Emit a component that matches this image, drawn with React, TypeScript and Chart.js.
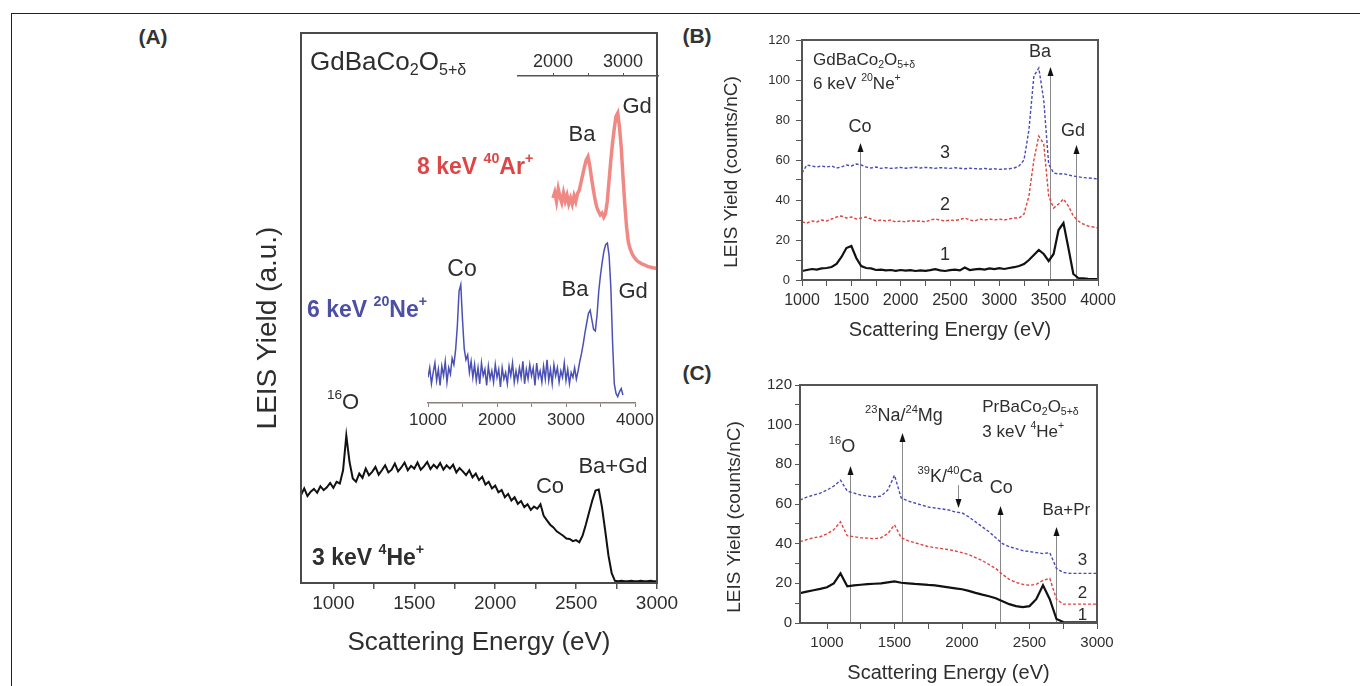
import React, { useEffect, useRef } from "react";
import { Chart, registerables } from "chart.js";

Chart.register(...registerables);

const FAMILY = "'Liberation Sans', Arial, Helvetica, sans-serif";
const TEXT = "#2e2e2e";
const AXIS = "#555555";

// ---------------- Panel A: 3 keV 4He+ (main plot), 20 eV sampling ----------------
const heStart = 800;
const heStep = 20;
const heYield = [
  16.0, 17.2, 15.8, 16.6, 17.1, 16.4, 17.6, 16.9, 17.4, 18.2,
  17.3, 18.4, 18.1, 20.5, 26.8, 22.0, 19.0,
  18.4, 19.9, 19.1, 20.8, 19.6, 20.2, 21.1, 19.7, 20.5, 21.4,
  20.1, 20.6, 21.7, 20.3, 21.0, 21.9, 20.5, 21.3, 20.8, 21.9,
  20.6, 21.2, 22.0, 20.7, 21.5, 20.9, 21.8, 20.6, 21.4, 20.8,
  21.5, 20.1, 20.9, 20.3, 19.6, 20.5, 19.2, 19.9, 18.7,
  19.3, 17.9, 18.4, 17.2, 17.7, 16.5, 16.9, 15.6, 16.2, 15.0,
  15.6, 14.4, 14.9, 13.8, 14.3, 13.3, 13.9, 13.5, 14.3, 12.2,
  11.4, 10.6, 10.1, 9.4, 9.0, 8.6, 8.1, 8.0, 7.6, 7.8,
  7.4, 8.6, 10.6, 12.8, 15.0, 16.8, 17.0, 13.8, 9.5, 5.0,
  1.8, 0.4,
  0.3, 0.4, 0.3, 0.3, 0.4, 0.3, 0.3, 0.4, 0.3, 0.3, 0.4, 0.3, 0.3,
];

// ---------------- Panel A inset: 6 keV 20Ne+, 25 eV sampling ----------------
const neStart = 1000;
const neStep = 25;
const neYield = [
  16, 22, 12, 19, 25, 14, 21, 11, 23, 17, 26, 13, 22, 18, 28, 24,
  33, 48, 70, 74, 52, 34, 27, 30, 19, 26, 16, 24, 14, 22, 12, 25,
  17, 21, 11, 23, 15, 20, 13, 24, 16, 21, 10, 22, 15, 19, 12, 23,
  17, 25, 13, 20, 14, 22, 16, 26, 12, 21, 15, 24, 17, 22, 11, 25,
  16, 20, 13, 23, 15, 27, 14, 21, 12, 24, 17, 22, 13, 20, 16, 25,
  14, 21, 12, 19, 16, 22, 15, 20, 26, 31, 37, 44, 50, 56, 58, 52,
  46, 45, 55, 70, 80, 88, 95, 99, 100, 92, 72, 38, 12, 6, 4, 7,
  9, 5,
];

// ---------------- Panel A inset: 8 keV 40Ar+, 25 eV sampling ----------------
const arStart = 2000;
const arStep = 25;
const arYield = [
  45.5, 48.0, 44.0, 49.5, 46.0, 43.5, 47.8, 44.2, 46.8, 43.0,
  45.5, 42.8, 46.5, 44.0, 47.5, 49.0, 52.5, 56.0, 59.5, 62.5,
  64.0, 60.0, 54.5, 49.5, 45.0, 41.5, 39.5, 38.0, 38.8, 37.0,
  38.5, 44.0, 53.0, 62.0, 70.0, 76.5, 82.0, 83.5, 77.0, 68.0,
  55.0, 43.0, 33.0, 26.0, 23.0, 21.0, 19.5, 18.5, 17.5, 17.0,
  16.5, 16.0, 15.8, 15.4, 15.0, 14.8, 14.6, 14.4, 14.3, 14.2,
];

// ---------------- Panel B: GdBaCo2O5+d, 6 keV 20Ne+, 50 eV sampling ----------------
const bStart = 1000;
const bStep = 50;
const bCurve1 = [
  4.5, 5.0, 5.5, 5.2, 5.8, 6.0, 6.5, 8.0, 11.5, 16.0,
  17.0, 11.0, 7.0, 6.0, 5.8, 5.0, 5.2, 4.8, 5.0, 4.6,
  5.0, 4.7, 4.9, 4.5, 4.8, 4.6, 4.9, 5.4, 4.8, 4.5,
  4.9, 5.2, 4.8, 6.2, 5.0, 5.3, 5.6, 5.2, 5.8, 5.4,
  5.9, 5.5, 6.0, 6.4, 7.0, 8.0, 10.0, 12.5, 15.0, 13.0,
  9.5, 13.0, 25.0, 28.5, 16.0, 3.0, 1.0, 0.8, 0.6, 0.5, 0.5,
];
const bCurve2 = [
  29.0, 28.5, 29.5, 29.0, 30.0, 29.5, 30.5, 31.5, 32.0, 31.0,
  31.5, 30.5, 31.0, 31.5, 30.5, 29.5, 30.0, 29.5, 30.0, 29.0,
  29.5, 29.0, 29.8, 29.3, 29.5, 29.0, 30.0, 30.5, 30.0, 29.5,
  30.0, 29.8, 30.2, 31.0, 30.0, 29.5, 30.5, 30.0, 30.5, 30.0,
  30.5, 30.0, 30.5, 31.0, 31.0, 33.0, 42.0, 60.0, 72.0, 68.0,
  42.0, 36.0, 38.0, 40.5, 37.0, 32.0, 29.5, 28.0, 27.0, 26.5, 26.0,
];
const bCurve3 = [
  53.5, 57.5, 57.0, 56.5, 57.0, 56.5, 57.0, 56.0, 56.5, 57.5,
  57.0, 58.0, 57.5, 56.5, 56.0, 56.5, 55.8, 56.2, 55.8, 56.0,
  56.3, 55.9, 56.1, 56.4, 56.0, 56.3, 56.1, 55.8, 56.2, 56.0,
  55.8, 56.1, 55.9, 55.6, 55.9, 55.7, 55.5, 55.8, 55.4, 55.6,
  55.3, 55.5, 55.6, 56.0, 57.0, 60.0, 75.0, 102.0, 106.0, 90.0,
  58.0, 53.5, 53.0, 53.2, 52.5, 52.0, 51.6, 51.2, 51.0, 50.8, 50.5,
];

// ---------------- Panel C: PrBaCo2O5+d, 3 keV 4He+, 50 eV sampling ----------------
const cStart = 800;
const cStep = 50;
const cCurve1 = [
  15.0, 15.8, 16.5, 17.2, 18.0, 20.0, 25.0, 18.5, 19.0, 19.3,
  19.6, 19.8, 20.0, 20.5, 21.0, 20.3, 20.0, 19.7, 19.5, 19.2,
  19.0, 18.5, 18.0, 17.5, 17.0, 16.2, 15.2, 14.3, 13.5, 12.5,
  11.0, 9.5, 8.5, 8.0, 8.5, 12.0, 19.0, 12.0, 2.0, 0.5,
  0.3, 0.3, 0.3, 0.3, 0.3,
];
const cCurve2 = [
  41.0, 42.0, 43.0, 43.5, 45.0, 47.0, 51.0, 44.0, 43.5, 43.0,
  42.8, 42.5, 43.0, 45.0, 49.5, 43.0, 41.5, 40.5, 39.5, 38.5,
  38.0, 37.5, 37.0, 36.3, 35.5, 34.5, 33.0, 31.5, 29.5, 27.5,
  24.5, 22.0, 20.5, 19.5, 19.0, 19.5, 21.5, 22.5, 12.0, 9.5,
  9.5, 9.5, 9.5, 9.5, 9.5,
];
const cCurve3 = [
  62.0, 63.5, 64.5, 65.5, 67.0, 69.0, 72.0, 66.5, 65.5, 64.5,
  64.0, 63.5, 64.0, 67.0, 74.5, 63.0, 61.5, 60.5, 59.5, 58.5,
  58.0, 57.5, 57.0, 56.0, 55.5, 53.5, 51.0, 48.5, 46.0, 43.0,
  40.0, 38.5, 37.5, 36.5, 36.0, 35.5, 35.0, 35.5, 27.5, 25.5,
  25.0, 25.0, 25.0, 25.0, 25.0,
];

// ---------------- ticks and tick labels ----------------
const aXTicks = [1000, 1250, 1500, 1750, 2000, 2250, 2500, 2750, 3000];
const aXTickLabels = [1000, 1500, 2000, 2500, 3000];
const arTicks = [2000, 2500, 3000];
const arTickLabels = [2000, 3000];
const neTicks = [1000, 1500, 2000, 2500, 3000, 3500, 4000];
const neTickLabels = [1000, 2000, 3000, 4000];
const bXTicks = [1000, 1250, 1500, 1750, 2000, 2250, 2500, 2750, 3000, 3250, 3500, 3750, 4000];
const bXTickLabels = [1000, 1500, 2000, 2500, 3000, 3500, 4000];
const yTicks = [0, 10, 20, 30, 40, 50, 60, 70, 80, 90, 100, 110, 120];
const yTickLabels = [0, 20, 40, 60, 80, 100, 120];
const cXTicks = [1000, 1250, 1500, 1750, 2000, 2250, 2500, 2750, 3000];
const cXTickLabels = [1000, 1500, 2000, 2500, 3000];

// ---------------- annotations (data coordinates) ----------------
type Label = { text: string; x: number; y: number; size: number; bold?: boolean; color?: string; align?: "left" | "center" | "right" };
type Arrow = { x: number; top: number; bottom?: number; down?: boolean };

const aLabels: Label[] = [
  { text: "GdBaCo_{2}O_{5+δ}", x: 856, y: 94.5, size: 26, align: "left" },
  { text: "8 keV ^{40}Ar^{+}", x: 1517, y: 75.6, size: 23, bold: true, color: "#e04545", align: "left" },
  { text: "Ba", x: 2537, y: 81.5, size: 22 },
  { text: "Gd", x: 2877, y: 86.5, size: 22 },
  { text: "Co", x: 1795, y: 56.9, size: 23 },
  { text: "6 keV ^{20}Ne^{+}", x: 837, y: 49.6, size: 23, bold: true, color: "#4d4fa6", align: "left" },
  { text: "Ba", x: 2493, y: 53.3, size: 22 },
  { text: "Gd", x: 2852, y: 52.9, size: 22 },
  { text: "^{16}O", x: 1060, y: 32.7, size: 22 },
  { text: "Co", x: 2339, y: 17.5, size: 22 },
  { text: "Ba+Gd", x: 2728, y: 21.1, size: 22 },
  { text: "3 keV ^{4}He^{+}", x: 868, y: 4.5, size: 23, bold: true, align: "left" },
];

const bLabels: Label[] = [
  { text: "GdBaCo_{2}O_{5+δ}", x: 1111, y: 110, size: 17, align: "left" },
  { text: "6 keV ^{20}Ne^{+}", x: 1111, y: 98, size: 17, align: "left" },
  { text: "Co", x: 1588, y: 76.5, size: 18 },
  { text: "3", x: 2449, y: 63.5, size: 18 },
  { text: "2", x: 2449, y: 37.5, size: 18 },
  { text: "1", x: 2449, y: 12.5, size: 18 },
  { text: "Ba", x: 3412, y: 114, size: 18 },
  { text: "Gd", x: 3747, y: 74.5, size: 18 },
];
const bArrows: Arrow[] = [
  { x: 1588, top: 68.5 },
  { x: 3513, top: 106.5 },
  { x: 3777, top: 67.5 },
];

const cLabels: Label[] = [
  { text: "^{16}O", x: 1111, y: 88.7, size: 18 },
  { text: "^{23}Na/^{24}Mg", x: 1570, y: 104.4, size: 18 },
  { text: "^{39}K/^{40}Ca", x: 1911, y: 73.6, size: 18 },
  { text: "Co", x: 2291, y: 68, size: 18 },
  { text: "Ba+Pr", x: 2773, y: 57, size: 17 },
  { text: "PrBaCo_{2}O_{5+δ}", x: 2150, y: 109, size: 17, align: "left" },
  { text: "3 keV ^{4}He^{+}", x: 2150, y: 96.3, size: 17, align: "left" },
  { text: "3", x: 2892, y: 31.8, size: 17 },
  { text: "2", x: 2892, y: 15.1, size: 17 },
  { text: "1", x: 2892, y: 4, size: 17 },
];
const cArrows: Arrow[] = [
  { x: 1170, top: 79.2 },
  { x: 1556, top: 95.8 },
  { x: 1973, top: 69.5, bottom: 58, down: true },
  { x: 2284, top: 59 },
  { x: 2696, top: 48.4 },
];

// ---------------- helpers ----------------
const toPoints = (start: number, step: number, ys: number[]) => ys.map((y, i) => ({ x: start + i * step, y }));
const labelIf = (list: number[]) => (v: any) => (list.indexOf(Number(v)) >= 0 ? String(v) : "");
const setTicks = (list: number[]) => (s: any) => {
  s.ticks = list.map((v) => ({ value: v }));
};
const fixAxis = (size: number, horizontal: boolean) => (s: any) => {
  if (horizontal) s.height = size;
  else s.width = size;
  s.paddingLeft = 0;
  s.paddingRight = 0;
  s.paddingTop = 0;
  s.paddingBottom = 0;
};

function parseRich(s: string) {
  const out: { t: string; k: number }[] = [];
  let buf = "";
  let i = 0;
  while (i < s.length) {
    const c = s[i];
    if ((c === "^" || c === "_") && s[i + 1] === "{") {
      if (buf) {
        out.push({ t: buf, k: 0 });
        buf = "";
      }
      const end = s.indexOf("}", i);
      out.push({ t: s.slice(i + 2, end), k: c === "^" ? 1 : -1 });
      i = end + 1;
    } else {
      buf += c;
      i++;
    }
  }
  if (buf) out.push({ t: buf, k: 0 });
  return out;
}

function drawRich(ctx: CanvasRenderingContext2D, s: string, x: number, y: number, size: number, bold: boolean, color: string, align: string) {
  const segs = parseRich(s);
  const small = size * 0.62;
  const fontOf = (k: number) => `${bold ? "bold " : ""}${k === 0 ? size : small}px ${FAMILY}`;
  let total = 0;
  for (const sg of segs) {
    ctx.font = fontOf(sg.k);
    total += ctx.measureText(sg.t).width;
  }
  let cx = align === "center" ? x - total / 2 : align === "right" ? x - total : x;
  ctx.fillStyle = color;
  ctx.textBaseline = "middle";
  ctx.textAlign = "left";
  for (const sg of segs) {
    ctx.font = fontOf(sg.k);
    const dy = sg.k === 1 ? -size * 0.36 : sg.k === -1 ? size * 0.3 : 0;
    ctx.fillText(sg.t, cx, y + dy);
    cx += ctx.measureText(sg.t).width;
  }
}

type Deco = {
  box?: { color: string; width: number };
  labels?: Label[];
  arrows?: Arrow[];
  yTitle?: { text: string; x: number; y: number; size: number };
};

function makeDeco(id: string, d: Deco) {
  return {
    id,
    beforeDatasetsDraw(chart: any) {
      const { ctx, scales } = chart;
      const xs = scales.x;
      const ys = scales.y;
      ctx.save();
      for (const ar of d.arrows || []) {
        const px = Math.round(xs.getPixelForValue(ar.x)) + 0.5;
        const pt = ys.getPixelForValue(ar.top);
        const pb = ys.getPixelForValue(ar.bottom ?? 0);
        ctx.strokeStyle = "#8a8a8a";
        ctx.lineWidth = 1;
        ctx.beginPath();
        if (ar.down) {
          ctx.moveTo(px, pt);
          ctx.lineTo(px, pb - 8);
        } else {
          ctx.moveTo(px, pt + 8);
          ctx.lineTo(px, pb);
        }
        ctx.stroke();
        ctx.fillStyle = "#111";
        ctx.beginPath();
        if (ar.down) {
          ctx.moveTo(px, pb);
          ctx.lineTo(px - 3, pb - 9);
          ctx.lineTo(px + 3, pb - 9);
        } else {
          ctx.moveTo(px, pt);
          ctx.lineTo(px - 3, pt + 9);
          ctx.lineTo(px + 3, pt + 9);
        }
        ctx.closePath();
        ctx.fill();
      }
      ctx.restore();
    },
    afterDatasetsDraw(chart: any) {
      const { ctx, chartArea: a, scales } = chart;
      const xs = scales.x;
      const ys = scales.y;
      ctx.save();
      if (d.box) {
        ctx.strokeStyle = d.box.color;
        ctx.lineWidth = d.box.width;
        ctx.strokeRect(a.left, a.top, a.right - a.left, a.bottom - a.top);
      }
      for (const lb of d.labels || []) {
        drawRich(ctx, lb.text, xs.getPixelForValue(lb.x), ys.getPixelForValue(lb.y), lb.size, !!lb.bold, lb.color || TEXT, lb.align || "center");
      }
      if (d.yTitle) {
        ctx.translate(d.yTitle.x, d.yTitle.y);
        ctx.rotate(-Math.PI / 2);
        ctx.font = `${d.yTitle.size}px ${FAMILY}`;
        ctx.fillStyle = TEXT;
        ctx.textAlign = "center";
        ctx.textBaseline = "middle";
        ctx.fillText(d.yTitle.text, 0, 0);
      }
      ctx.restore();
    },
  };
}

const common = {
  animation: false,
  responsive: false,
  maintainAspectRatio: false,
  events: [],
  plugins: { legend: { display: false }, tooltip: { enabled: false }, title: { display: false } },
  elements: { point: { radius: 0 }, line: { tension: 0 } },
};

const line = (data: any[], color: string, width: number, dash?: number[]) => ({
  data,
  borderColor: color,
  borderWidth: width,
  borderDash: dash || [],
  pointRadius: 0,
  fill: false,
  tension: 0,
});

function buildConfigs(): any[] {
  const panelA = {
    type: "line",
    data: { datasets: [line(toPoints(heStart, heStep, heYield), "#111111", 2)] },
    options: {
      ...common,
      layout: { padding: { left: 301, right: 703, top: 33, bottom: 27.4 } },
      scales: {
        x: {
          type: "linear", min: 800, max: 3000, position: "bottom",
          afterFit: fixAxis(75.6, true),
          afterBuildTicks: setTicks(aXTicks),
          border: { display: false },
          grid: { drawOnChartArea: false, drawTicks: true, tickLength: 6, color: AXIS, lineWidth: 1.5 },
          ticks: { autoSkip: false, maxRotation: 0, minRotation: 0, padding: 3, color: TEXT, font: { family: FAMILY, size: 19 }, callback: labelIf(aXTickLabels) },
          title: { display: true, text: "Scattering Energy (eV)", color: TEXT, font: { family: FAMILY, size: 26 }, padding: 0 },
        },
        y: { type: "linear", min: 0, max: 100, display: false },
      },
    },
    plugins: [makeDeco("decoA", { box: { color: "#4a4a4a", width: 2 }, labels: aLabels, yTitle: { text: "LEIS Yield (a.u.)", x: 268, y: 328, size: 28 } })],
  };

  const insetNe = {
    type: "line",
    data: { datasets: [line(toPoints(neStart, neStep, neYield), "#4b50b4", 1.5)] },
    options: {
      ...common,
      layout: { padding: { left: 428, right: 725, top: 227, bottom: 253 } },
      scales: {
        x: {
          type: "linear", min: 1000, max: 4000, position: "bottom",
          afterFit: fixAxis(30, true),
          afterBuildTicks: setTicks(neTicks),
          border: { display: true, color: "#8c7f7c", width: 1.5 },
          grid: { drawOnChartArea: false, tickLength: 4, color: "#8c7f7c" },
          ticks: { autoSkip: false, maxRotation: 0, minRotation: 0, padding: 3, color: TEXT, font: { family: FAMILY, size: 17 }, callback: labelIf(neTickLabels) },
        },
        y: { type: "linear", min: 0, max: 110, display: false },
      },
    },
  };

  const insetAr = {
    type: "line",
    data: { datasets: [line(toPoints(arStart, arStep, arYield), "rgba(236,104,98,0.78)", 3.5)] },
    options: {
      ...common,
      layout: { padding: { left: 518, right: 702, top: 46, bottom: 386 } },
      scales: {
        x: {
          type: "linear", min: 1500, max: 3500, position: "top",
          afterFit: fixAxis(30, true),
          afterBuildTicks: setTicks(arTicks),
          border: { display: true, color: AXIS, width: 1.5 },
          grid: { drawOnChartArea: false, tickLength: 3, color: AXIS },
          ticks: { autoSkip: false, maxRotation: 0, minRotation: 0, padding: 0, color: TEXT, font: { family: FAMILY, size: 18 }, callback: labelIf(arTickLabels) },
        },
        y: { type: "linear", min: 0, max: 100, display: false },
      },
    },
  };

  const panelB = {
    type: "line",
    data: {
      datasets: [
        line(toPoints(bStart, bStep, bCurve3), "#4a4ab8", 1.4, [3, 2]),
        line(toPoints(bStart, bStep, bCurve2), "#e0443c", 1.4, [3, 2]),
        line(toPoints(bStart, bStep, bCurve1), "#111111", 2.2),
      ],
    },
    options: {
      ...common,
      layout: { padding: { left: 742, right: 262, top: 40, bottom: 344 } },
      scales: {
        x: {
          type: "linear", min: 1000, max: 4000, position: "bottom",
          afterFit: fixAxis(62, true),
          afterBuildTicks: setTicks(bXTicks),
          border: { display: false },
          grid: { drawOnChartArea: false, tickLength: 6, color: AXIS },
          ticks: { autoSkip: false, maxRotation: 0, minRotation: 0, padding: 5, color: TEXT, font: { family: FAMILY, size: 16 }, callback: labelIf(bXTickLabels) },
          title: { display: true, text: "Scattering Energy (eV)", color: TEXT, font: { family: FAMILY, size: 20 }, padding: 0 },
        },
        y: {
          type: "linear", min: 0, max: 120, position: "left",
          afterFit: fixAxis(60, false),
          afterBuildTicks: setTicks(yTicks),
          border: { display: false },
          grid: { drawOnChartArea: false, tickLength: 6, color: AXIS },
          ticks: { autoSkip: false, padding: 6, color: TEXT, font: { family: FAMILY, size: 13 }, callback: labelIf(yTickLabels) },
        },
      },
    },
    plugins: [makeDeco("decoB", { box: { color: AXIS, width: 2 }, labels: bLabels, arrows: bArrows, yTitle: { text: "LEIS Yield (counts/nC)", x: 732, y: 172, size: 19 } })],
  };

  const panelC = {
    type: "line",
    data: {
      datasets: [
        line(toPoints(cStart, cStep, cCurve3), "#4a4ab8", 1.4, [3, 2]),
        line(toPoints(cStart, cStep, cCurve2), "#e0443c", 1.4, [3, 2]),
        line(toPoints(cStart, cStep, cCurve1), "#111111", 2.2),
      ],
    },
    options: {
      ...common,
      layout: { padding: { left: 740, right: 263, top: 385, bottom: 1 } },
      scales: {
        x: {
          type: "linear", min: 800, max: 3000, position: "bottom",
          afterFit: fixAxis(62, true),
          afterBuildTicks: setTicks(cXTicks),
          border: { display: false },
          grid: { drawOnChartArea: false, tickLength: 6, color: AXIS },
          ticks: { autoSkip: false, maxRotation: 0, minRotation: 0, padding: 5, color: TEXT, font: { family: FAMILY, size: 15 }, callback: labelIf(cXTickLabels) },
          title: { display: true, text: "Scattering Energy (eV)", color: TEXT, font: { family: FAMILY, size: 20 }, padding: 0 },
        },
        y: {
          type: "linear", min: 0, max: 120, position: "left",
          afterFit: fixAxis(60, false),
          afterBuildTicks: setTicks(yTicks),
          border: { display: false },
          grid: { drawOnChartArea: false, tickLength: 5, color: AXIS },
          ticks: { autoSkip: false, padding: 3, color: TEXT, font: { family: FAMILY, size: 15 }, callback: labelIf(yTickLabels) },
        },
      },
    },
    plugins: [makeDeco("decoC", { box: { color: AXIS, width: 2 }, labels: cLabels, arrows: cArrows, yTitle: { text: "LEIS Yield (counts/nC)", x: 735, y: 517, size: 19 } })],
  };

  return [panelA, insetNe, insetAr, panelB, panelC];
}

const W = 1360;
const H = 686;

export default function App() {
  const refs = useRef<(HTMLCanvasElement | null)[]>([]);
  useEffect(() => {
    const cfgs = buildConfigs();
    const charts = cfgs.map((c, i) => new Chart(refs.current[i] as HTMLCanvasElement, c));
    return () => charts.forEach((ch) => ch.destroy());
  }, []);

  const letter = (t: string, x: number, y: number) => (
    <div
      style={{
        position: "absolute",
        left: x,
        top: y,
        transform: "translate(-50%, -50%)",
        font: `bold 21px ${FAMILY}`,
        color: "#333",
        whiteSpace: "nowrap",
      }}
    >
      {t}
    </div>
  );

  return (
    <div style={{ position: "absolute", left: 0, top: 0, width: W, height: H, overflow: "hidden", background: "#fff" }}>
      <div
        style={{
          position: "absolute",
          left: 11,
          top: 13,
          width: W + 20,
          height: H + 20,
          borderLeft: "1.5px solid #222",
          borderTop: "1.5px solid #222",
        }}
      />
      {letter("(A)", 153, 37)}
      {letter("(B)", 697, 36)}
      {letter("(C)", 697, 373)}
      {[0, 1, 2, 3, 4].map((i) => (
        <canvas
          key={i}
          ref={(el) => {
            refs.current[i] = el;
          }}
          width={W}
          height={H}
          style={{ position: "absolute", left: 0, top: 0, width: W, height: H }}
        />
      ))}
    </div>
  );
}
